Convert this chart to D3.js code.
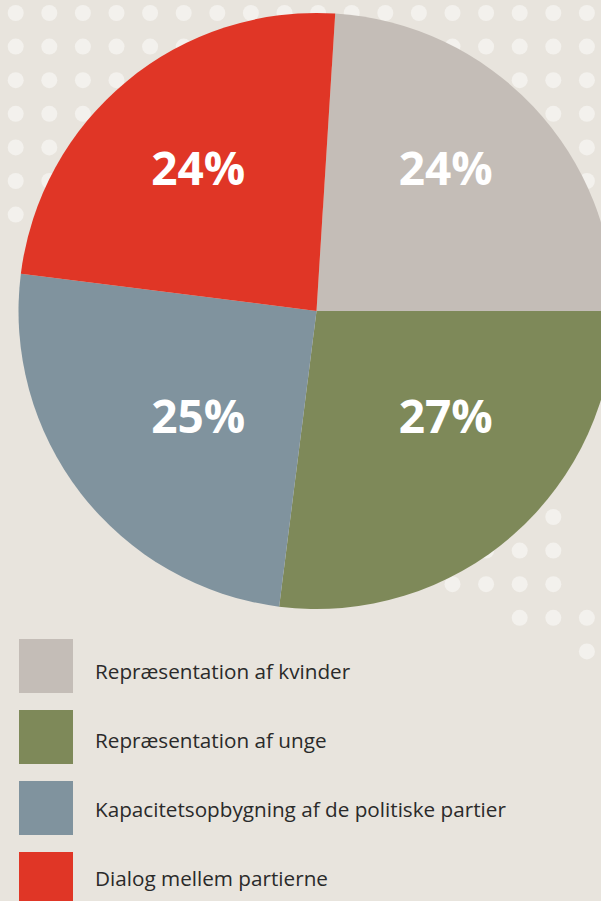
<!DOCTYPE html>
<html>
<head>
<meta charset="utf-8">
<script src="https://cdn.jsdelivr.net/npm/d3@7"></script>
<style>
  html, body { margin: 0; padding: 0; background: #e8e4dd; }
  svg { display: block; }
</style>
</head>
<body>
<div id="container"></div>
<script>
const categories = [
    "Repræsentation af kvinder",
    "Repræsentation af unge",
    "Kapacitetsopbygning af de politiske partier",
    "Dialog mellem partierne"
]
const values = [24, 27, 25, 24]
const labels = ["24%", "27%", "25%", "24%"]
const colors = ["#c4bdb7", "#7e8959", "#80939e", "#e03626"]

const w = 601
const h = 901
const cx = 316.5
const cy = 311
const r = 298

const svg = d3.select("#container")
    .append("svg")
    .attr("width", w)
    .attr("height", h)

svg.append("rect")
    .attr("width", w)
    .attr("height", h)
    .attr("fill", "#e8e4dd")

// background dot pattern (decoration)
const step = 33.6
const dots = []
for (let j = 0; j <= 6; j++) {
    for (let i = 0; i <= 17; i++) dots.push([i, j])
}
const cornerDots = [[16, 15], [14, 16], [15, 16], [16, 16], [13, 17], [14, 17], [15, 17], [16, 17],
    [15, 18], [16, 18], [17, 18], [17, 19]]
svg.append("g")
    .selectAll("circle")
    .data(dots.concat(cornerDots))
    .enter()
    .append("circle")
    .attr("cx", d => 15.7 + d[0] * step)
    .attr("cy", d => 13 + d[1] * step)
    .attr("r", 8)
    .attr("fill", "#f3f1ed")

// pie, the first slice ends at 3 o'clock
const total = d3.sum(values)
const start = Math.PI / 2 - values[0] / total * 2 * Math.PI
const pie = d3.pie().sort(null).startAngle(start).endAngle(start + 2 * Math.PI)
const arcs = pie(values)
const arc = d3.arc().innerRadius(0).outerRadius(r)

const g = svg.append("g").attr("transform", `translate(${cx},${cy})`)
g.selectAll("path")
    .data(arcs)
    .enter()
    .append("path")
    .attr("d", arc)
    .attr("fill", (d, i) => colors[i])

// labels sit in the middle of the quadrant that holds the slice
const labelArc = d3.arc().innerRadius(175).outerRadius(175)
const q = Math.PI / 2
g.append("g")
    .attr("transform", "translate(5.5,-18.3)")
    .selectAll("text")
    .data(arcs)
    .enter()
    .append("text")
    .attr("transform", d => {
        const mid = (d.startAngle + d.endAngle) / 2
        const a = (Math.floor(mid / q) + 0.5) * q
        const p = labelArc.centroid({ startAngle: a, endAngle: a })
        return `translate(${p[0]},${p[1]})`
    })
    .attr("text-anchor", "middle")
    .attr("dy", "0.357em")
    .attr("fill", "#ffffff")
    .attr("font-family", "'Open Sans', sans-serif")
    .attr("font-weight", 700)
    .attr("font-size", 46)
    .text((d, i) => labels[i])

// legend
const legend = svg.append("g")

legend.selectAll("rect")
    .data(categories)
    .enter()
    .append("rect")
    .attr("x", 19)
    .attr("y", (d, i) => 639 + i * 71)
    .attr("width", 54)
    .attr("height", 54)
    .attr("fill", (d, i) => colors[i])

legend.selectAll("text")
    .data(categories)
    .enter()
    .append("text")
    .attr("x", 95)
    .attr("y", (d, i) => 678.5 + i * 69.1)
    .attr("fill", "#2a2a2a")
    .attr("font-family", "'Open Sans', sans-serif")
    .attr("font-size", 20.7)
    .text(d => d)
</script>
</body>
</html>
